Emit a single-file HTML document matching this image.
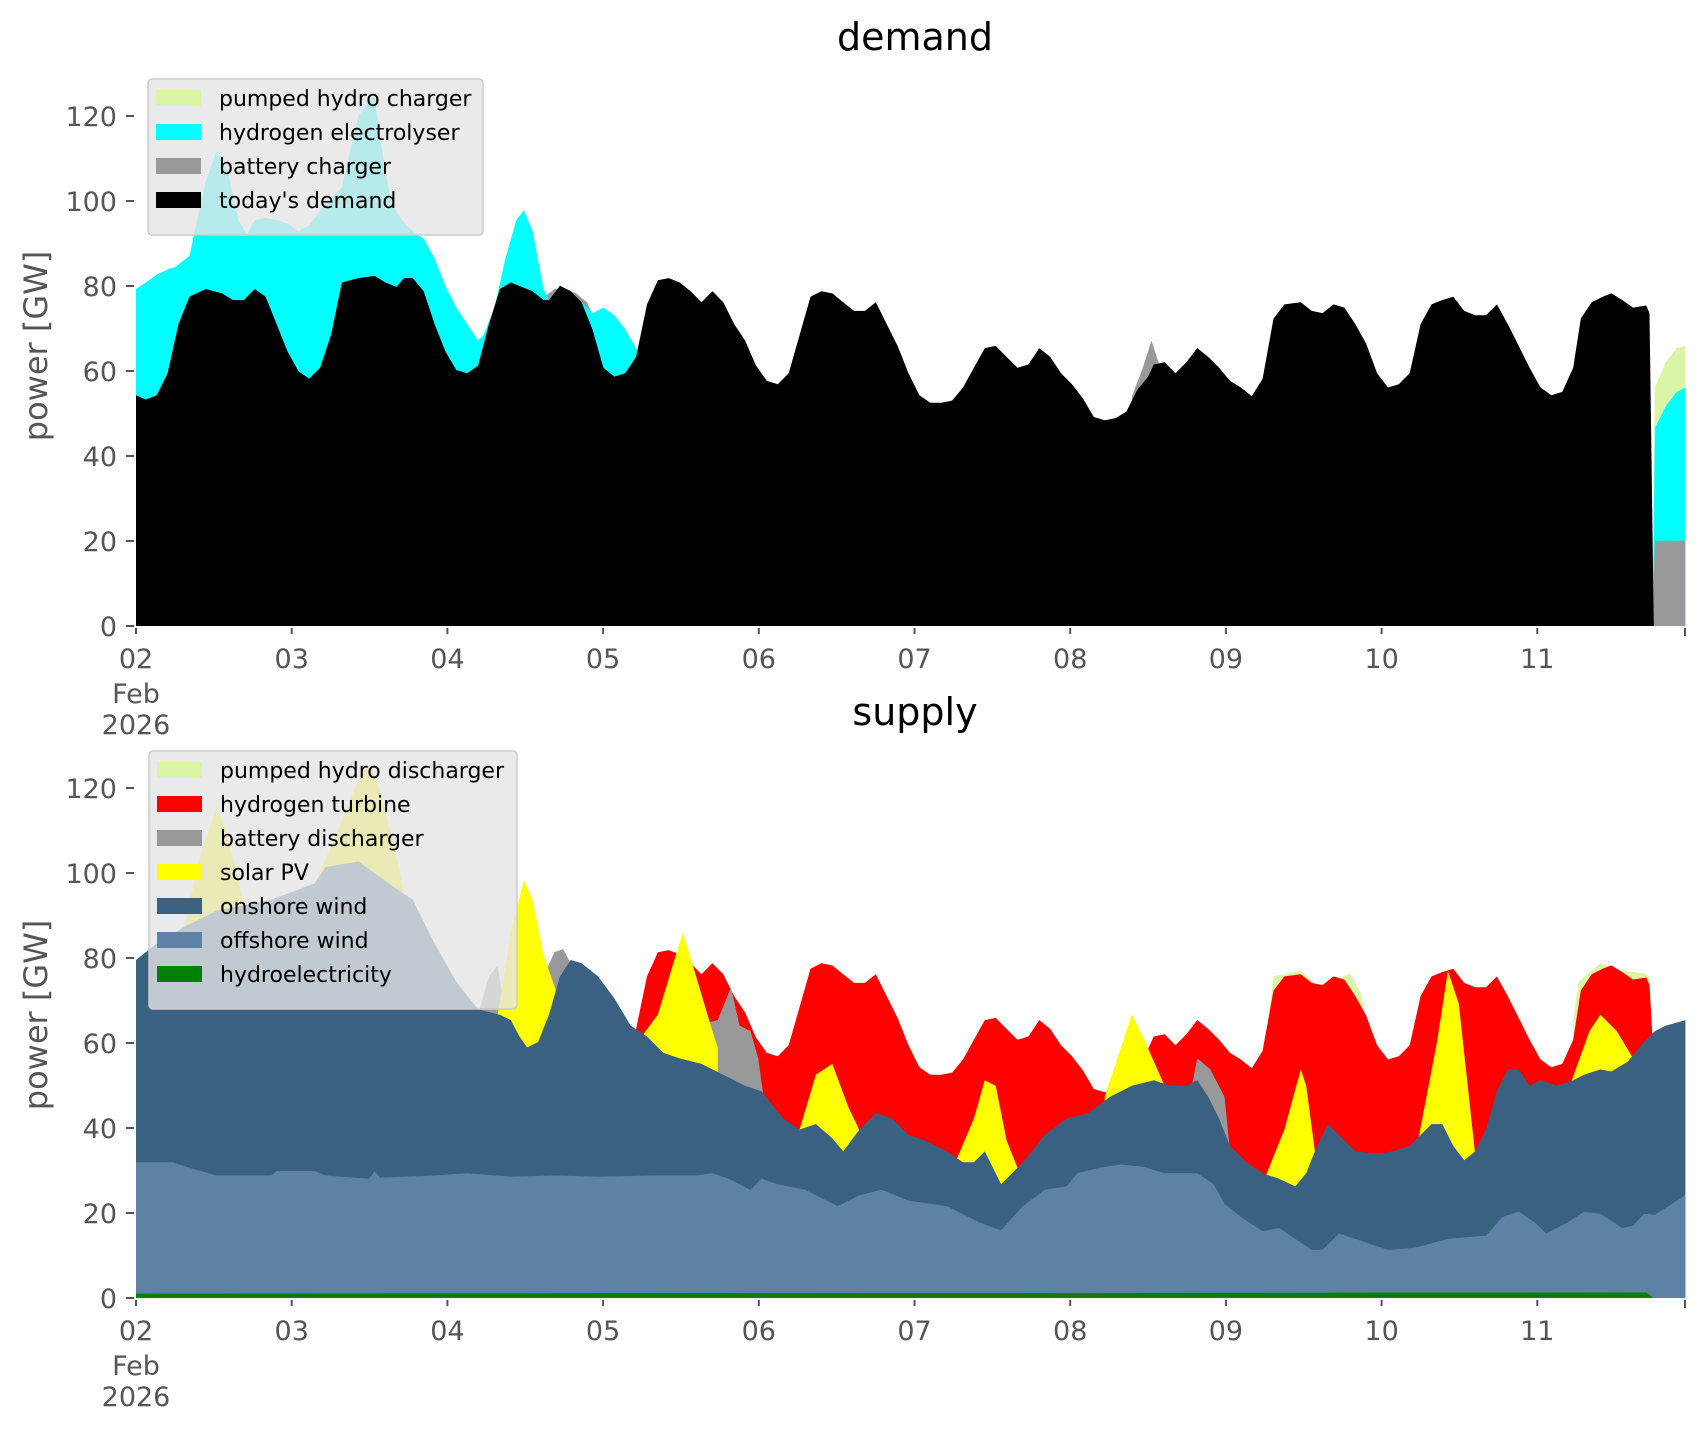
<!DOCTYPE html>
<html><head><meta charset="utf-8"><style>
html,body{margin:0;padding:0;background:#fff;}
svg{display:block;font-family:"DejaVu Sans","Liberation Sans",sans-serif;}
</style></head><body>
<svg id="s" width="1706" height="1431" viewBox="0 0 1706 1431" xmlns="http://www.w3.org/2000/svg">
<g id="g"></g>
<text x="915" y="50" font-size="38" text-anchor="middle" fill="#000">demand</text>
<text x="915" y="725" font-size="38" text-anchor="middle" fill="#000">supply</text>
<text transform="translate(47,346) rotate(-90)" font-size="32" text-anchor="middle" fill="#555">power [GW]</text>
<text transform="translate(47,1015) rotate(-90)" font-size="32" text-anchor="middle" fill="#555">power [GW]</text>
<g id="ax" fill="#555" font-size="27"></g>
<g id="leg"></g>
</svg>
<script>
const NS="http://www.w3.org/2000/svg";
const g=document.getElementById('g'),ax=document.getElementById('ax'),leg=document.getElementById('leg');
function rx(dx){return 136+(dx-126)*1.0896;}
function ryT(dy){return 626-(576-dy)*1.094;}
function ryB(dy){return 1298-(1194-dy)*1.094;}
function area(pts,fy,base,col){
  let d='M'+rx(pts[0][0]).toFixed(1)+','+base;
  for(const p of pts)d+='L'+rx(p[0]).toFixed(1)+','+fy(p[1]).toFixed(1);
  d+='L'+rx(pts[pts.length-1][0]).toFixed(1)+','+base+'Z';
  const e=document.createElementNS(NS,'path');e.setAttribute('d',d);e.setAttribute('fill',col);g.appendChild(e);
}
const black=[[126,365],[135,369],[145,365],[155,345],[165,300],[175,275],[190,268],[205,272],[215,278],[225,278],[235,268],[245,275],[255,300],[265,325],[275,343],[285,350],[295,340],[305,310],[315,262],[330,258],[345,256],[355,262],[365,266],[372,258],[380,258],[390,270],[400,300],[410,325],[420,342],[430,345],[440,338],[450,300],[460,268],[470,262],[480,266],[490,270],[500,278],[505,278],[515,265],[525,270],[535,280],[545,305],[555,340],[565,348],[575,345],[585,330],[595,282],[605,260],[615,258],[625,262],[635,270],[645,280],[655,270],[665,280],[675,300],[685,315],[695,338],[705,352],[715,355],[725,345],[735,310],[745,275],[755,270],[765,272],[775,280],[785,288],[795,288],[805,280],[815,300],[825,320],[835,345],[845,365],[855,372],[865,372],[875,370],[885,358],[895,340],[905,322],[915,320],[925,330],[935,340],[945,337],[955,322],[965,330],[975,345],[985,355],[995,368],[1005,385],[1015,388],[1025,386],[1035,380],[1045,360],[1055,348],[1060,337],[1070,335],[1080,345],[1090,335],[1100,322],[1110,330],[1120,340],[1130,352],[1140,358],[1150,366],[1160,350],[1170,295],[1180,282],[1195,280],[1205,288],[1215,290],[1225,282],[1235,285],[1245,300],[1255,318],[1265,345],[1275,358],[1285,355],[1295,345],[1305,300],[1315,282],[1325,278],[1335,275],[1345,288],[1355,292],[1365,292],[1375,282],[1385,300],[1395,320],[1405,340],[1415,358],[1425,365],[1435,362],[1445,340],[1452,295],[1462,280],[1472,275],[1480,272],[1490,278],[1500,285],[1512,283],[1515,290],[1519,576]];
const cyan=[[126,268],[135,262],[145,255],[155,250],[162,248],[168,243],[175,238],[180,215],[190,170],[200,142],[210,160],[220,205],[228,218],[235,205],[245,203],[255,205],[265,208],[275,215],[285,210],[300,190],[315,175],[330,110],[340,95],[345,92],[350,130],[360,190],[370,205],[380,215],[390,222],[400,240],[410,265],[420,285],[430,300],[440,315],[445,310],[455,285],[465,240],[475,205],[482,196],[490,215],[500,268],[505,278],[515,265],[525,270],[535,280],[545,290],[555,285],[565,292],[575,305],[585,322],[592,330],[595,282],[600,576]];
const grayT=[[470,262],[478,252],[486,245],[494,262],[500,276],[510,268],[520,268],[530,272],[540,280],[548,300],[555,340],[560,576]];
const grayT2=[[1040,366],[1050,340],[1058,315],[1066,340],[1072,345],[1080,576]];
area([[1518,576],[1520,358],[1530,335],[1540,322],[1548,320]],ryT,626,'#daf5a6');
area(grayT,ryT,626,'#999999');area(grayT2,ryT,626,'#999999');
area([[1518,576],[1520,395],[1530,375],[1540,362],[1548,358]],ryT,626,'#00ffff');
area([[1518,576],[1520,498],[1548,498]],ryT,626,'#999999');
area(cyan,ryT,626,'#00ffff');
area(black,ryT,626,'#000000');
const sh=black.filter(p=>p[0]>=585&&p[0]<=1515).map(p=>[p[0],p[1]+618]);
area([[1165,940],[1170,900],[1195,895],[1210,908],[1225,905],[1240,897],[1250,915],[1255,940]],ryB,1298,'#daf5a6');
area([[1445,940],[1450,905],[1470,888],[1490,895],[1510,897],[1515,900],[1518,960]],ryB,1298,'#daf5a6');
area([[585,960]].concat(sh).concat([[1518,960]]),ryB,1298,'#ff0000');
const bat=[[[440,935],[450,900],[458,890],[465,935]],[[500,900],[510,878],[518,875],[526,890]],[[630,960],[640,945],[660,940],[672,910],[680,945],[690,950],[697,975],[702,1010]],[[1095,1000],[1100,975],[1112,985],[1125,1010],[1130,1060]]];
bat.forEach(b=>area(b,ryB,1298,'#999999'));
const sol=[[[170,855],[185,790],[200,745],[210,770],[225,835],[232,860]],[[290,815],[310,770],[330,720],[340,706],[350,730],[365,790],[372,825]],[[458,935],[470,860],[482,812],[490,830],[500,880],[512,915]],[[590,955],[605,935],[620,885],[628,860],[640,900],[655,950],[660,965]],[[735,1040],[750,990],[765,980],[780,1020],[792,1045]],[[878,1070],[895,1030],[905,995],[915,1000],[925,1050],[937,1080]],[[1015,1010],[1030,965],[1040,935],[1050,955],[1070,1000],[1078,1005]],[[1163,1082],[1180,1040],[1195,985],[1200,1000],[1210,1075],[1215,1080]],[[1303,1048],[1320,960],[1330,895],[1340,925],[1355,1062],[1360,1065]],[[1443,997],[1460,950],[1470,935],[1485,950],[1500,975],[1505,980]]];
sol.forEach(b=>area(b,ryB,1298,'#ffff00'));
const on=[[126,885],[145,870],[170,855],[200,840],[250,830],[290,815],[300,800],[330,795],[365,820],[380,830],[400,870],[420,905],[440,930],[460,935],[470,940],[478,955],[485,965],[495,960],[505,935],[515,900],[525,885],[535,888],[550,900],[565,920],[580,945],[595,955],[610,970],[625,975],[645,980],[665,990],[685,1000],[700,1005],[720,1030],[735,1040],[750,1035],[765,1048],[775,1060],[790,1040],[805,1025],[820,1030],[835,1045],[850,1050],[870,1060],[885,1070],[895,1070],[905,1060],[920,1090],[940,1070],[960,1045],[980,1030],[1000,1025],[1020,1010],[1040,1000],[1060,995],[1075,1000],[1090,1000],[1100,995],[1110,1010],[1120,1030],[1130,1055],[1145,1070],[1160,1080],[1175,1085],[1190,1092],[1200,1080],[1210,1055],[1220,1035],[1230,1045],[1245,1060],[1265,1062],[1280,1060],[1295,1055],[1305,1045],[1315,1035],[1325,1035],[1335,1055],[1345,1068],[1355,1060],[1365,1040],[1375,1005],[1385,985],[1395,985],[1405,1000],[1415,995],[1430,1000],[1445,995],[1455,990],[1470,985],[1480,987],[1495,978],[1510,960],[1520,950],[1530,945],[1548,940]];
area(on,ryB,1298,'#3b6182');
const off=[[126,1070],[160,1070],[175,1075],[200,1082],[250,1082],[255,1078],[290,1078],[300,1082],[340,1085],[345,1078],[350,1084],[400,1082],[430,1080],[470,1083],[510,1082],[550,1083],[600,1082],[640,1082],[655,1080],[670,1085],[690,1095],[700,1085],[715,1090],[740,1095],[770,1110],[790,1100],[810,1095],[835,1105],[870,1110],[900,1125],[920,1132],[940,1110],[960,1095],[980,1092],[990,1080],[1010,1075],[1030,1072],[1050,1074],[1070,1080],[1100,1080],[1115,1090],[1125,1108],[1140,1120],[1160,1133],[1175,1130],[1190,1140],[1205,1150],[1215,1150],[1230,1135],[1245,1140],[1260,1145],[1275,1150],[1300,1148],[1330,1140],[1365,1137],[1380,1120],[1395,1115],[1410,1125],[1420,1135],[1440,1125],[1455,1115],[1470,1117],[1490,1130],[1500,1128],[1510,1117],[1520,1118],[1548,1100]];
area(off,ryB,1298,'#5d82a6');
area([[126,1190],[1505,1189],[1512,1189],[1519,1194]],ryB,1298,'#008000');
function txt(x,y,s,anchor,size){const e=document.createElementNS(NS,'text');e.setAttribute('x',x);e.setAttribute('y',y);e.setAttribute('text-anchor',anchor);if(size)e.setAttribute('font-size',size);e.textContent=s;ax.appendChild(e);}
function line(x1,y1,x2,y2){const e=document.createElementNS(NS,'line');e.setAttribute('x1',x1);e.setAttribute('y1',y1);e.setAttribute('x2',x2);e.setAttribute('y2',y2);e.setAttribute('stroke','#555');e.setAttribute('stroke-width','2');ax.appendChild(e);}
[[626,0],[1298,1]].forEach(([y0,b])=>{
 for(let v=0;v<=120;v+=20){const y=y0-v*4.25;line(126,y,134,y);txt(117,y+10,String(v),'end');}
 const days=['02','03','04','05','06','07','08','09','10','11'];
 days.forEach((d,i)=>{const x=136+155.7*i;line(x,y0+2,x,y0+8);txt(x,y0+42,d,'middle');});
 line(1685,y0+2,1685,y0+10);
 txt(136,y0+77,'Feb','middle');txt(136,y0+108,'2026','middle');
});
function legend(x,y,w,items){
 const h=items.length*34+20;
 const r=document.createElementNS(NS,'rect');r.setAttribute('x',x);r.setAttribute('y',y);r.setAttribute('width',w);r.setAttribute('height',h);r.setAttribute('rx',4);r.setAttribute('fill','rgba(229,229,229,0.8)');r.setAttribute('stroke','#cccccc');r.setAttribute('stroke-width','1.5');leg.appendChild(r);
 items.forEach((it,i)=>{const cy=y+19+i*34;
  const p=document.createElementNS(NS,'rect');p.setAttribute('x',x+8);p.setAttribute('y',cy-8);p.setAttribute('width',45);p.setAttribute('height',16);p.setAttribute('fill',it[1]);leg.appendChild(p);
  const t=document.createElementNS(NS,'text');t.setAttribute('x',x+71);t.setAttribute('y',cy+8);t.setAttribute('font-size','22');t.setAttribute('fill','#000');t.textContent=it[0];leg.appendChild(t);});
}
legend(148,79,335,[['pumped hydro charger','#daf5a6'],['hydrogen electrolyser','#00ffff'],['battery charger','#999999'],["today's demand",'#000000']]);
legend(149,751,368,[['pumped hydro discharger','#daf5a6'],['hydrogen turbine','#ff0000'],['battery discharger','#999999'],['solar PV','#ffff00'],['onshore wind','#3b6182'],['offshore wind','#5d82a6'],['hydroelectricity','#008000']]);
</script>
</body></html>
